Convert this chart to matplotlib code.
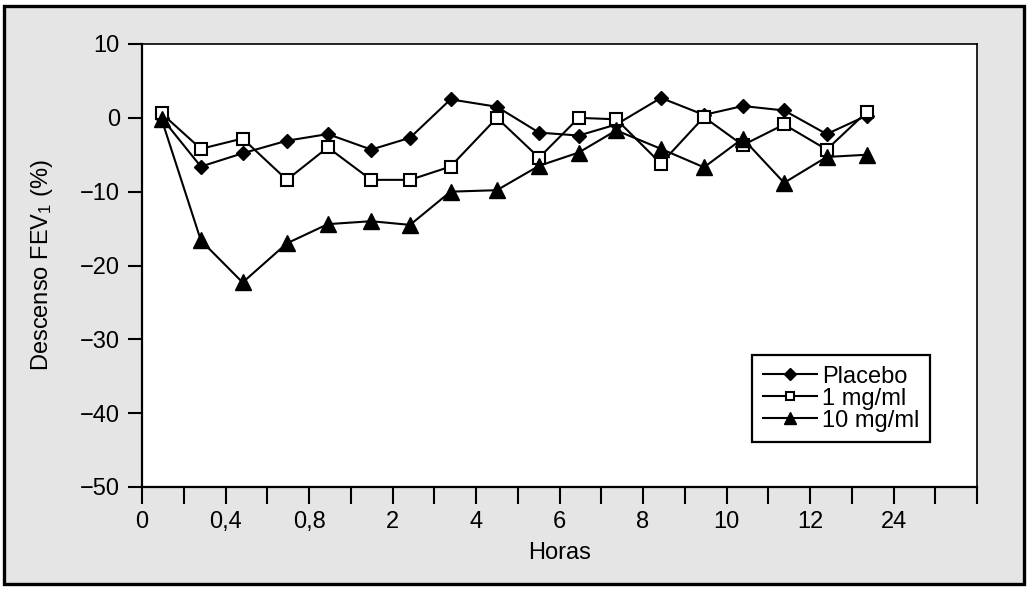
import matplotlib
matplotlib.use("Agg")
import matplotlib.pyplot as plt
from matplotlib.patches import Rectangle

plt.rcParams['font.family'] = ['Liberation Sans', 'DejaVu Sans']
plt.rcParams['mathtext.fontset'] = 'custom'
plt.rcParams['mathtext.rm'] = 'Liberation Sans'
plt.rcParams['mathtext.it'] = 'Liberation Sans'

# horizontal position of each measurement, in tick-slot units of the axis
slots = [0.47, 1.41, 2.41, 3.47, 4.45, 5.49, 6.42, 7.39, 8.50, 9.51,
         10.46, 11.36, 12.43, 13.46, 14.39, 15.38, 16.40, 17.36]

placebo = [0.0, -6.6, -4.8, -3.1, -2.2, -4.3, -2.7, 2.5, 1.5, -2.0,
           -2.4, -0.9, 2.7, 0.4, 1.6, 1.0, -2.2, 0.3]
mg1 = [0.6, -4.2, -2.8, -8.4, -4.0, -8.4, -8.4, -6.6, 0.0, -5.4,
       0.0, -0.2, -6.2, 0.1, -3.7, -0.9, -4.3, 0.8]
mg10 = [-0.2, -16.6, -22.3, -17.0, -14.4, -14.0, -14.5, -10.0, -9.8, -6.5,
        -4.7, -1.7, -4.2, -6.7, -2.8, -8.8, -5.3, -5.0]

xtick_labels = ['0', '', '0,4', '', '0,8', '', '2', '', '4', '', '6', '', '8', '',
                '10', '', '12', '', '24', '', '']
yticks = [10, 0, -10, -20, -30, -40, -50]

W, H = 1031, 590
fig = plt.figure(figsize=(W / 100, H / 100), dpi=100)
fig.patch.set_facecolor('white')
fig.patches.append(Rectangle((4 / W, 1 - 584 / H), 1020 / W, 578 / H,
                             transform=fig.transFigure, facecolor='#e5e5e5',
                             edgecolor='black', linewidth=2.4, zorder=-10))

ax = fig.add_axes([142 / W, 1 - 487 / H, (977 - 142) / W, (487 - 44) / H])
ax.set_facecolor('white')

kw = dict(color='black', linewidth=1.5, markeredgecolor='black', clip_on=False)
ax.plot(slots, placebo, marker='D', markersize=7.5, markerfacecolor='black', label='Placebo', **kw)
ax.plot(slots, mg1, marker='s', markersize=8, markerfacecolor='white', markeredgewidth=1.5,
        label='1 mg/ml', **kw)
ax.plot(slots, mg10, marker='^', markersize=11, markerfacecolor='black', label='10 mg/ml', **kw)

ax.set_xlim(0, 20)
ax.set_ylim(-50, 10)
ax.set_xticks(range(21))
ax.set_xticklabels(xtick_labels)
ax.set_yticks(yticks)

for s in ['left', 'bottom']:
    ax.spines[s].set_linewidth(1.6)
for s in ['top', 'right']:
    ax.spines[s].set_linewidth(1.2)
ax.tick_params(axis='x', length=12, width=1.5, pad=5, labelsize=17)
ax.tick_params(axis='y', length=10, width=1.5, pad=6, labelsize=17)

ax.set_xlabel('Horas', fontsize=17, labelpad=7)
ax.set_ylabel('Descenso FEV$_1$ (%)', fontsize=17, labelpad=18)

leg = ax.legend(loc='upper left', bbox_to_anchor=((752 - 142) / 835, 1 - (355 - 44) / 443),
                fontsize=17, frameon=True, fancybox=False, edgecolor='black',
                handlelength=2.3, handletextpad=0.2, labelspacing=0.0,
                borderpad=0.45, borderaxespad=0, markerscale=0.75)
leg.get_frame().set_linewidth(1.6)
leg.get_frame().set_alpha(1)

fig.savefig('out.png', dpi=100)
